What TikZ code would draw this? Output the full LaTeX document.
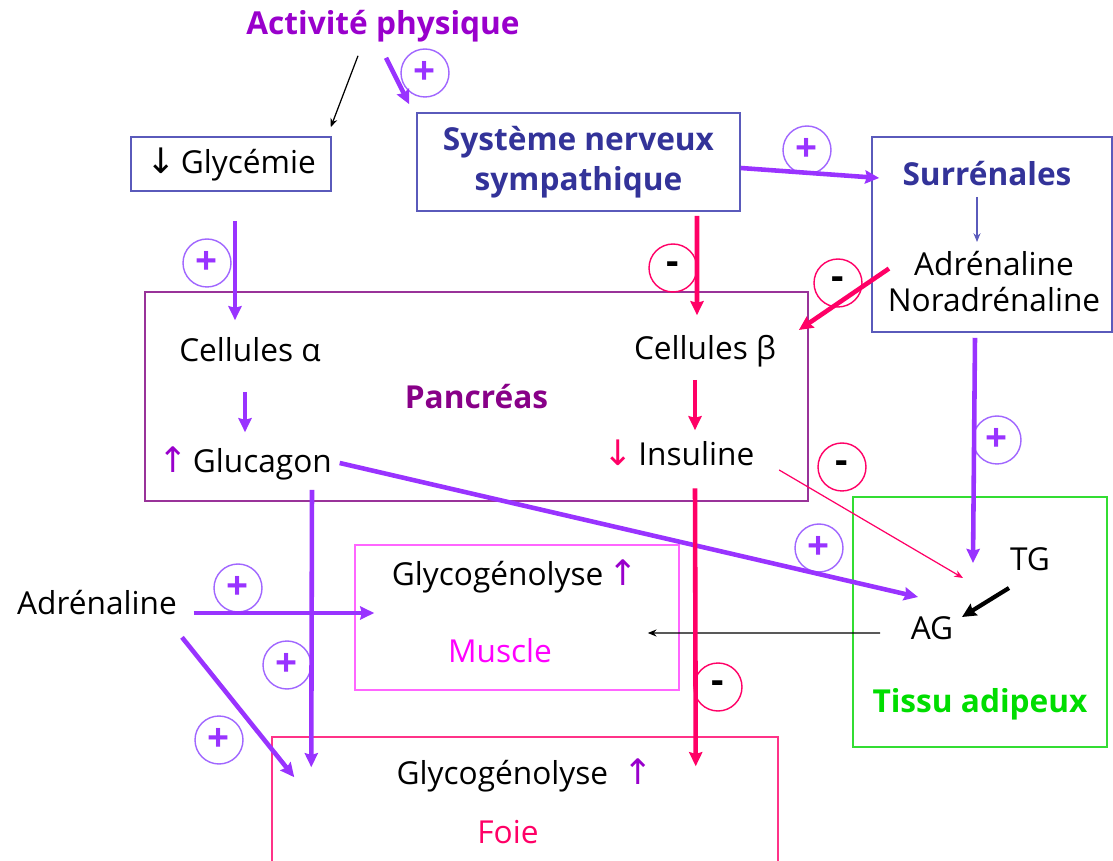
\documentclass[tikz,border=0pt]{standalone}
\usepackage{fontspec}
\setmainfont{Open Sans}
\newfontfamily\arrowfont{DejaVu Sans}
\usepackage{tikz}
\usetikzlibrary{arrows.meta}

\definecolor{violetarr}{HTML}{9933FF}
\definecolor{plusring}{HTML}{A066FF}
\definecolor{pinkarr}{HTML}{FF0066}
\definecolor{actpurple}{HTML}{9900CC}
\definecolor{titleblue}{HTML}{333399}
\definecolor{boxblue}{HTML}{5A5ABB}
\definecolor{pancpurple}{HTML}{993399}
\definecolor{panctext}{HTML}{880088}
\definecolor{musclemag}{HTML}{FF66FF}
\definecolor{muscletext}{HTML}{FF00FF}
\definecolor{foiepink}{HTML}{FF3388}
\definecolor{adipgreen}{HTML}{33DD33}
\definecolor{adiptext}{HTML}{00DD00}

\newcommand{\bigfont}{\fontsize{18}{21}\selectfont}
\newcommand{\upar}[1]{\textcolor{#1}{\arrowfont\fontsize{20}{21}\selectfont ↑}}
\newcommand{\downar}[1]{\textcolor{#1}{\arrowfont\fontsize{20}{21}\selectfont ↓}}

\begin{document}
\begin{tikzpicture}[>={Stealth[length=8pt, width=7.5pt, inset=1pt]}, x=0.02cm, y=-0.02cm,
    every node/.style={inner sep=2pt, font=\bigfont},
    lbl/.style={text height=13pt, text depth=4pt},
    titl/.style={lbl, font=\bigfont\bfseries},
    frame/.style={draw=#1, line width=0.9pt},
    vio/.style={->, violetarr, line width=2.6pt},
    pinkl/.style={->, pinkarr, line width=2.6pt},
    fine/.style={-{Stealth[length=5pt, width=4pt]}, line width=0.7pt},
    pluscirc/.style={circle, draw=plusring, line width=0.8pt, minimum size=0.96cm,
        inner sep=0pt, text=violetarr, font=\fontsize{22}{22}\selectfont\bfseries},
    minuscirc/.style={circle, draw=pinkarr, line width=0.8pt, minimum size=0.96cm,
        inner sep=0pt, font=\fontsize{22}{22}\selectfont\bfseries}]
\path[use as bounding box, clip] (0,0) rectangle (1113,861);

% boxes
\node[frame=boxblue, minimum width=4cm, minimum height=1.08cm] (gly) at (231,164)
    {\downar{black}\,Glycémie};
\node[frame=boxblue, minimum width=6.46cm, minimum height=1.96cm, align=center,
    text=titleblue, font=\fontsize{18}{23}\selectfont\bfseries] (sns) at (578.5,162)
    {Système nerveux\\sympathique};
\node[frame=boxblue, minimum width=4.8cm, minimum height=3.9cm] (surr) at (992,234.5) {};
\node[frame=pancpurple, minimum width=13.26cm, minimum height=4.18cm, text=panctext,
    font=\bigfont\bfseries] (panc) at (476.5,396.5) {Pancréas};
\node[frame=musclemag, minimum width=6.48cm, minimum height=2.9cm] (musc) at (517,617.5) {};
\node[frame=foiepink, minimum width=10.12cm, minimum height=3.4cm] (foie) at (525,822) {};
\node[frame=adipgreen, minimum width=5.08cm, minimum height=5cm] (adip) at (980,622) {};

% texts
\node[titl, text=actpurple] (act) at (383,27) {Activité physique};
\node[titl, text=titleblue] (surrt) at (987,178) {Surrénales};
\node[anchor=north, align=center] (adr) at (994,247) {Adrénaline\\Noradrénaline};
\node[lbl] (calpha) at (250,354) {Cellules α};
\node[lbl] (cbeta) at (705,352) {Cellules β};
\node[lbl] (gluc) at (245,465) {\upar{actpurple}\,Glucagon};
\node[lbl] (insu) at (679,458) {\downar{pinkarr}\,Insuline};
\node[lbl] (glym) at (515,578) {Glycogénolyse\,\upar{actpurple}};
\node[lbl, text=muscletext] (muscl) at (500,655) {Muscle};
\node[lbl] (glyf) at (525,777) {Glycogénolyse\enspace\upar{actpurple}};
\node[lbl, text=pinkarr] (foiel) at (508,836) {Foie};
\node[lbl] (tg) at (1030,563) {TG};
\node[lbl] (ag) at (932,632) {AG};
\node[titl, text=adiptext] (tissu) at (980,705) {Tissu adipeux};
\node[lbl] (adrl) at (97,607) {Adrénaline};

% signs
\node[pluscirc] (plusAct) at (425,73) {+};
\node[pluscirc] (plusSurr) at (807,150) {+};
\node[minuscirc] (minusSNS) at (673,268) {-};
\node[minuscirc] (minusNor) at (838,283) {-};
\node[pluscirc] (plusGly) at (207,263) {+};
\node[pluscirc] (plusTG) at (997,440) {+};
\node[minuscirc] (minusIns) at (842,467) {-};
\node[pluscirc] (plusAG) at (819,548) {+};
\node[pluscirc] (plusMus) at (238,588) {+};
\node[pluscirc] (plusFoieG) at (287,665) {+};
\node[pluscirc] (plusFoieA) at (219,740) {+};
\node[minuscirc] (minusFoie) at (718,687) {-};

% arrows
\draw[fine] ([shift={(-25,10)}]act.south) -- ([shift={(-1,-9)}]gly.north east);
\draw[vio] ([shift={(3,12)}]act.south) -- ([shift={(-7,-8)}]sns.north west);
\draw[vio] ([shift={(0,6)}]sns.east) -- ([shift={(8,-56.5)}]surr.west);
\draw[fine, boxblue, line width=0.6pt] ([shift={(-10,0)}]surrt.south) -- ([shift={(-17,-5)}]adr.north);
\draw[pinkl] ([shift={(118.5,4)}]sns.south) -- ([shift={(-8,-18)}]cbeta.north);
\draw[pinkl] ([shift={(5,-13)}]adr.west) -- ([shift={(19,-22)}]cbeta.east);
\draw[vio] ([shift={(4,29)}]gly.south) -- ([shift={(-15,-15)}]calpha.north);
\draw[vio] ([shift={(-5,19)}]calpha.south) -- ([shift={(0,-14)}]gluc.north);
\draw[pinkl] ([shift={(-10,9)}]cbeta.south) -- ([shift={(16,-9)}]insu.north);
\draw[vio] ([shift={(-17,5)}]surr.south) -- ([shift={(-57,0)}]tg.center);
\draw[fine, pinkarr] ([shift={(21,12)}]insu.east) -- ([shift={(31,-54)}]ag.center);
\draw[vio] ([shift={(4,-2)}]gluc.east) -- ([shift={(-14,-35)}]ag.center);
\draw[->, line width=2.4pt] ([shift={(-21,25)}]tg.center) -- ([shift={(30,-15)}]ag.center);
\draw[fine] ([shift={(-52,1)}]ag.center) -- ([shift={(-32,15.5)}]musc.east);
\draw[vio] ([shift={(13,6)}]adrl.east) -- ([shift={(20,-4.5)}]musc.west);
\draw[vio] ([shift={(67,6)}]gluc.south) -- ([shift={(40,31)}]foie.north west);
\draw[vio] ([shift={(85,11.5)}]adrl.south) -- ([shift={(23,41)}]foie.north west);
\draw[pinkl] ([shift={(16,11.5)}]insu.south) -- ([shift={(-83,30)}]foie.north east);
\end{tikzpicture}
\end{document}
